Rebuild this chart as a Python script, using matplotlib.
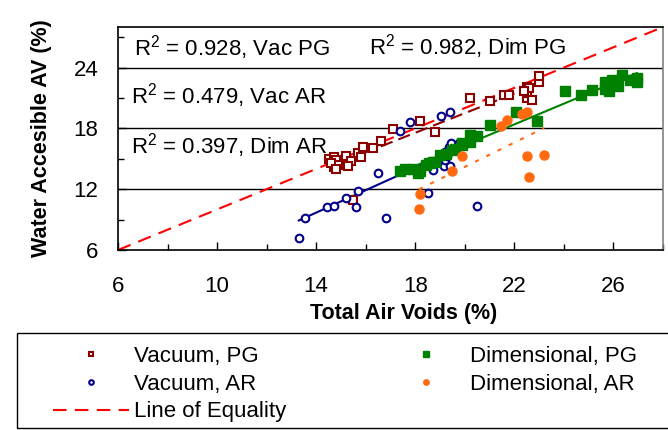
import numpy as np
import matplotlib
matplotlib.use("Agg")
import matplotlib.pyplot as plt
from matplotlib.patches import Rectangle

plt.rcParams["font.family"] = ["Liberation Sans", "DejaVu Sans"]
plt.rcParams["mathtext.fontset"] = "custom"
plt.rcParams["mathtext.rm"] = "Liberation Sans"

# values (air voids %, water accessible AV %)
vac_pg_x = [14.5, 14.7, 14.8, 14.7, 14.9, 14.6, 14.8, 15.2, 15.4, 15.3, 15.7, 15.8,
            15.9, 16.3, 16.6, 17.1, 18.2, 18.8, 15.5, 20.2, 21.0, 21.6, 21.8, 22.5,
            22.5, 22.5, 22.6, 22.7, 22.4, 23.0, 23.0]
vac_pg_y = [15.0, 15.2, 14.9, 14.2, 14.4, 14.6, 14.0, 15.3, 14.8, 14.3, 15.6, 15.2,
            16.2, 16.1, 16.8, 17.9, 18.7, 17.6, 10.9, 21.0, 20.7, 21.3, 21.3, 21.0,
            21.5, 22.1, 22.0, 20.8, 21.7, 22.6, 23.2]

vac_ar_x = [13.3, 13.55, 14.45, 14.7, 15.2, 15.7, 15.6, 16.8, 16.5, 18.5, 20.5, 18.7,
            19.15, 19.4, 19.2, 19.3, 19.2, 19.35, 19.45, 19.75, 19.05, 19.4, 17.4, 17.8]
vac_ar_y = [7.2, 9.2, 10.2, 10.3, 11.1, 11.8, 10.2, 9.2, 13.6, 11.6, 10.3, 13.9,
            14.3, 14.3, 14.9, 15.3, 15.7, 16.2, 16.6, 16.6, 19.2, 19.6, 17.7, 18.6]

dim_pg_x = [17.4, 17.6, 17.9, 18.1, 18.2, 18.45, 18.55, 18.7, 18.8, 19.0, 19.25, 19.5,
            19.6, 19.9, 19.9, 20.2, 20.2, 20.5, 21.0, 22.05, 22.9, 24.05, 24.7, 25.15,
            25.65, 25.8, 25.65, 25.95, 26.2, 26.35, 26.65, 26.95, 26.95]
dim_pg_y = [13.8, 14.0, 13.95, 13.55, 13.8, 14.4, 14.6, 14.7, 14.7, 15.4, 15.5, 15.85,
            16.0, 16.4, 16.6, 16.7, 17.35, 17.2, 18.3, 19.6, 18.7, 21.65, 21.25, 21.75,
            22.55, 21.65, 21.9, 22.8, 22.15, 23.3, 22.8, 23.0, 22.6]

dim_ar_x = [18.15, 18.2, 19.5, 19.9, 21.45, 21.7, 22.3, 22.5, 22.5, 23.2, 22.6]
dim_ar_y = [10.0, 11.5, 13.8, 15.3, 18.25, 18.85, 19.4, 19.6, 15.3, 15.4, 13.2]

equality = [6, 28]

x_major = [6, 10, 14, 18, 22, 26]
x_minor = [8, 12, 16, 20, 24, 28]
y_major = [6, 12, 18, 24]
y_minor = [9, 15, 21, 27]

r2_labels = ["R$^{2}$ = 0.928, Vac PG", "R$^{2}$ = 0.982, Dim PG",
             "R$^{2}$ = 0.479, Vac AR", "R$^{2}$ = 0.397, Dim AR"]

C_VPG = "#8B0000"
C_VAR = "#00008B"
C_DPG = "#008000"
C_DAR = "#FF6A10"


def trend(ax, x, y, **kw):
    k, b = np.polyfit(x, y, 1)
    xs = np.array([min(x), max(x)])
    ax.plot(xs, k * xs + b, **kw)


fig = plt.figure(figsize=(6.68, 4.30), dpi=100)
ax = fig.add_axes([118 / 668, 180 / 430, 545 / 668, 223 / 430])

ax.set_xlim(6, 28)
ax.set_ylim(6, 28)
for yv in y_major[1:]:
    ax.axhline(yv, color="black", lw=1.0, zorder=1)

ax.plot(vac_pg_x, vac_pg_y, ls="none", marker="s", ms=6, mfc="white", mec=C_VPG,
        mew=1.5, label="Vacuum, PG", zorder=3)
ax.plot(vac_ar_x, vac_ar_y, ls="none", marker="o", ms=5.5, mfc="white", mec=C_VAR,
        mew=1.5, label="Vacuum, AR", zorder=3)
ax.plot(equality, equality, color="#FF0000", lw=1.5, dashes=(6.5, 4),
        label="Line of Equality", zorder=2)
ax.plot(dim_pg_x, dim_pg_y, ls="none", marker="s", ms=6.5, mfc=C_DPG, mec=C_DPG,
        label="Dimensional, PG", zorder=3)
ax.plot(dim_ar_x, dim_ar_y, ls="none", marker="o", ms=6.5, mfc=C_DAR, mec=C_DAR,
        label="Dimensional, AR", zorder=3)

trend(ax, vac_pg_x, vac_pg_y, color=C_VPG, lw=1.5, dashes=(6, 3), zorder=2)
trend(ax, vac_ar_x, vac_ar_y, color=C_VAR, lw=1.5, zorder=2)
trend(ax, dim_pg_x, dim_pg_y, color=C_DPG, lw=1.5, zorder=2)
trend(ax, dim_ar_x, dim_ar_y, color=C_DAR, lw=1.5, dashes=(2, 4), zorder=2)

ax.text(6.66, 25.15, r2_labels[0], fontsize=16)
ax.text(16.15, 25.3, r2_labels[1], fontsize=16)
ax.text(6.54, 20.5, r2_labels[2], fontsize=16)
ax.text(6.54, 15.54, r2_labels[3], fontsize=16)

ax.set_xticks(x_major)
ax.set_xticks(x_minor, minor=True)
ax.set_yticks(y_major)
ax.set_yticks(y_minor, minor=True)
ax.tick_params(which="both", direction="in", width=1.0, colors="black", labelsize=16)
ax.tick_params(which="major", length=5.5)
ax.tick_params(which="minor", length=4)
ax.tick_params(axis="x", which="major", pad=19)
ax.tick_params(axis="y", which="major", pad=14)

for s in ax.spines.values():
    s.set_linewidth(1.2)
    s.set_color("black")
ax.spines["right"].set_color("#808080")

ax.set_xlabel("Total Air Voids (%)", fontsize=15.5, fontweight="bold")
ax.xaxis.set_label_coords(0.525, -0.238)
ax.set_ylabel("Water Accesible AV (%)", fontsize=15.5, fontweight="bold")
ax.yaxis.set_label_coords(-0.121, 0.5)

# legend with an Excel-like box running off the right edge
fig.patches.append(Rectangle((17 / 668, 2 / 430), 1.0, 95 / 430, transform=fig.transFigure,
                             fill=False, edgecolor="black", lw=1.0))
handles, labels = ax.get_legend_handles_labels()
fig.legend(handles, labels, ncol=2, loc="upper left", bbox_to_anchor=(42 / 668, 95 / 430),
           frameon=False, borderpad=0, fontsize=16, markerscale=0.6,
           handlelength=3.4, handletextpad=0.25, columnspacing=4.6, labelspacing=0.3)

fig.savefig("out.png", dpi=100)
